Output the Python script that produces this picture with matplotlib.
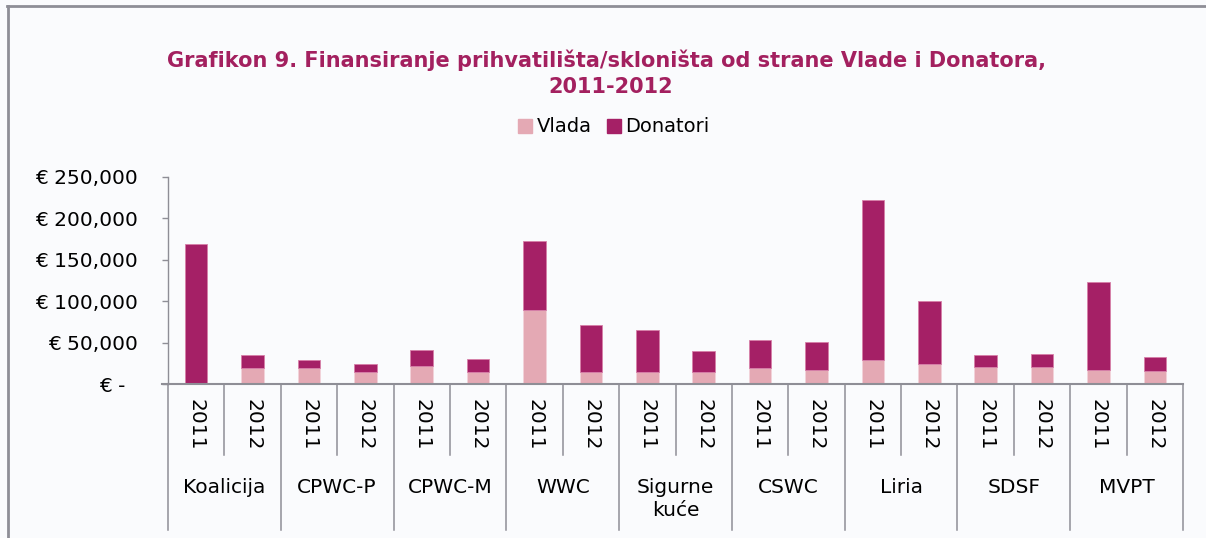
import numpy as np
import matplotlib
matplotlib.use("Agg")
from matplotlib import pyplot as plt
from matplotlib.lines import Line2D
from matplotlib.patches import Patch
import matplotlib.transforms as mtransforms

# Data (EUR)
groups = ["Koalicija", "CPWC-P", "CPWC-M", "WWC", "Sigurne\nkuće",
          "CSWC", "Liria", "SDSF", "MVPT"]
years = ["2011", "2012"]
vlada = [0, 19300, 18900, 14500, 21700, 14500, 89200, 14500, 14500, 14500,
         18900, 16500, 28900, 24500, 20500, 20500, 16500, 16300]
total = [168500, 34600, 28600, 24500, 41400, 29800, 172500, 71200, 65100, 39400,
         53100, 50600, 222700, 100100, 35400, 36600, 123000, 32900]
donatori = [t - v for t, v in zip(total, vlada)]
yticks = [0, 50000, 100000, 150000, 200000, 250000]
ytick_labels = ["€ -  ", "€ 50,000", "€ 100,000", "€ 150,000", "€ 200,000", "€ 250,000"]

c_vlada = "#E4A9B4"
c_don = "#A52066"
c_title = "#A3205F"
c_axis = "#8E8E96"
bg = "#FAFBFD"

plt.rcParams['font.family'] = ['DejaVu Sans']

fig = plt.figure(figsize=(12.06, 5.38), dpi=100, facecolor=bg)
ax = fig.add_axes([168/1206, 1-384/538, (1183-168)/1206, (384-177)/538])
ax.set_facecolor(bg)

x = np.arange(len(total))
ax.bar(x, vlada, width=0.40, color=c_vlada, edgecolor="#F2D3DA", linewidth=0.6, label="Vlada")
ax.bar(x, donatori, bottom=vlada, width=0.40, color=c_don, edgecolor="#D77FA8",
       linewidth=0.6, label="Donatori")

ax.set_xlim(-0.5, len(total) - 0.5)
ax.set_ylim(0, 250000)
for s in ["top", "right"]:
    ax.spines[s].set_visible(False)
ax.spines["left"].set_color(c_axis)
ax.spines["bottom"].set_color(c_axis)
ax.spines["left"].set_linewidth(1.0)
ax.spines["bottom"].set_linewidth(1.5)

ax.set_yticks(yticks)
ax.set_yticklabels(ytick_labels, fontsize=14.5)
ax.tick_params(axis="y", length=4.5, width=1.0, color=c_axis, pad=17)

ax.set_xticks(x)
ax.set_xticklabels(years * len(groups), rotation=270, fontsize=14.5)
ax.tick_params(axis="x", length=0, pad=11)

# category separators below the axis
trans = mtransforms.blended_transform_factory(ax.transData, ax.transAxes)
for i in range(len(total) + 1):
    xb = i - 0.5
    y_end = -0.705 if i % 2 == 0 else -0.343
    ax.add_line(Line2D([xb, xb], [0, y_end], transform=trans, color=c_axis,
                       linewidth=1.1, clip_on=False))
ax.add_line(Line2D([-0.5 - 0.11, -0.5], [0, 0], transform=trans, color=c_axis,
                   linewidth=1.5, clip_on=False))

for gi, g in enumerate(groups):
    ax.text(2 * gi + 0.5, -0.455, g, transform=trans, ha="center", va="top",
            fontsize=14.5, linespacing=1.25)

fig.text(0.503, 1-60/538, "Grafikon 9. Finansiranje prihvatilišta/skloništa od strane Vlade i Donatora,",
         ha="center", va="center", fontsize=15, fontweight="bold", color=c_title)
fig.text(0.506, 1-87/538, "2011-2012", ha="center", va="center", fontsize=15,
         fontweight="bold", color=c_title)

handles = [Patch(color=c_vlada), Patch(color=c_don)]
fig.legend(handles, ["Vlada", "Donatori"], loc="center", bbox_to_anchor=(0.509, 1-127/538),
           ncol=2, frameon=False, fontsize=14, handlelength=0.7, handleheight=0.7,
           handletextpad=0.25, columnspacing=0.8)

# outer frame
fig.add_artist(Line2D([7/1206, 1.0], [1-5.5/538, 1-5.5/538], transform=fig.transFigure,
                      color=c_axis, linewidth=2))
fig.add_artist(Line2D([7.5/1206, 7.5/1206], [0, 1-5.5/538], transform=fig.transFigure,
                      color=c_axis, linewidth=2))

fig.savefig("out.png", dpi=100, facecolor=bg)
